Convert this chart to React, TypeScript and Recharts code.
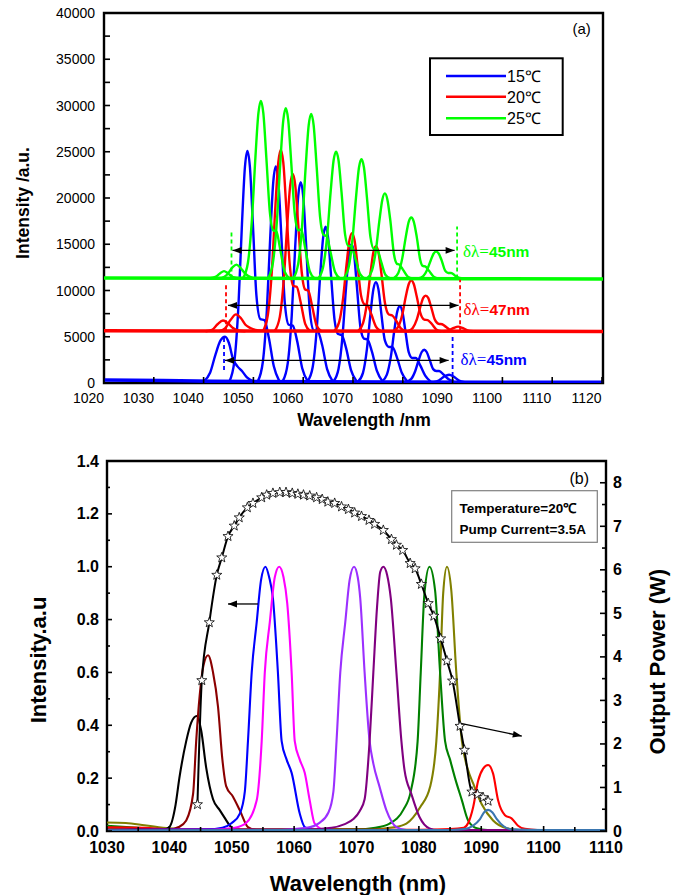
import React from 'react';
import { LineChart, Line, XAxis, YAxis, ReferenceArea, ReferenceLine, ReferenceDot } from 'recharts';

type Pt = [number, number];

const FONT = 'Arial, "Liberation Sans", sans-serif';
const SERIF = '"Times New Roman", "Liberation Serif", serif';

// ---------- (a) spectra at three temperatures ----------
const aLabels = [1020, 1030, 1040, 1050, 1060, 1070, 1080, 1090, 1100, 1110, 1120];
const aTickShift = 3.1; // tick marks in the original frame sit 3.1 nm right of their labels
const aYTicks = [0, 2500, 5000, 7500, 10000, 12500, 15000, 17500, 20000, 22500, 25000, 27500, 30000, 32500, 35000, 37500, 40000];

const blueBaseline: Pt[] = [[1023.1, 320], [1035, 260], [1045, 180], [1100, 90], [1123.3, 80]];
const redBaseline: Pt[] = [[1023.1, 5650], [1060, 5620], [1123.3, 5580]];
const greenBaseline: Pt[] = [[1023.1, 11350], [1070, 11300], [1123.3, 11250]];

const blue15: Pt[][] = [
  [[1043.2, 200], [1044.4, 1100], [1045.5, 3100], [1046.5, 4600], [1047.4, 5000], [1048.2, 4300], [1049.0, 2600], [1049.9, 1800], [1050.8, 1300], [1051.8, 600], [1053.0, 200]],
  [[1048.3, 200], [1049.3, 2450], [1050.1, 8400], [1050.8, 17150], [1051.4, 23350], [1051.9, 25100], [1052.4, 23350], [1053.0, 17150], [1053.7, 9500], [1054.5, 6900], [1055.3, 6800], [1056.2, 4900], [1057.2, 1800], [1058.3, 200]],
  [[1054.0, 200], [1055.0, 2300], [1055.8, 7850], [1056.5, 16000], [1057.1, 21800], [1057.6, 23400], [1058.1, 21800], [1058.7, 16000], [1059.4, 8700], [1060.2, 6300], [1061.0, 6200], [1061.9, 4500], [1062.9, 1600], [1064.0, 200]],
  [[1059.0, 200], [1060.0, 2150], [1060.8, 7300], [1061.5, 14800], [1062.1, 20200], [1062.6, 21700], [1063.1, 20200], [1063.7, 14800], [1064.4, 8000], [1065.2, 5700], [1066.0, 5600], [1066.9, 4100], [1067.9, 1500], [1069.0, 200]],
  [[1064.0, 200], [1065.0, 1700], [1065.8, 5700], [1066.5, 11550], [1067.1, 15700], [1067.6, 16900], [1068.1, 15700], [1068.7, 11550], [1069.4, 6800], [1070.1, 5300], [1070.8, 5200], [1071.7, 3800], [1072.7, 1400], [1073.8, 200]],
  [[1069.2, 200], [1070.2, 1550], [1071.0, 5100], [1071.7, 10300], [1072.3, 14000], [1072.8, 15000], [1073.3, 14000], [1073.9, 10300], [1074.6, 6000], [1075.3, 4800], [1076.0, 4700], [1076.9, 3400], [1077.9, 1300], [1079.0, 200]],
  [[1074.1, 150], [1075.1, 1100], [1075.9, 3700], [1076.6, 7450], [1077.2, 10150], [1077.7, 10900], [1078.2, 10150], [1078.8, 7450], [1079.5, 4600], [1080.3, 3900], [1081.0, 3900], [1081.9, 2800], [1082.9, 1100], [1084.0, 150]],
  [[1078.9, 150], [1079.9, 900], [1080.7, 2850], [1081.4, 5700], [1082.0, 7750], [1082.5, 8300], [1083.0, 7750], [1083.6, 5700], [1084.3, 3300], [1085.0, 2700], [1085.7, 2700], [1086.6, 1900], [1087.6, 800], [1088.7, 150]],
  [[1083.8, 150], [1084.8, 450], [1085.6, 1300], [1086.3, 2500], [1086.9, 3350], [1087.4, 3600], [1087.9, 3350], [1088.5, 2500], [1089.2, 1500], [1089.8, 1300], [1090.4, 1300], [1091.3, 900], [1092.3, 400], [1093.4, 100]],
  [[1089.3, 100], [1090.4, 300], [1091.4, 700], [1092.4, 900], [1093.3, 700], [1094.3, 300], [1095.5, 100]],
];

const red20: Pt[][] = [
  [[1043.5, 5600], [1044.8, 5750], [1045.9, 6350], [1047.0, 6750], [1048.0, 6450], [1049.0, 5950], [1050.3, 5650], [1051.5, 5600]],
  [[1046.2, 5600], [1047.4, 5900], [1048.5, 6800], [1049.6, 7420], [1050.6, 7000], [1051.5, 6300], [1052.5, 5950], [1053.5, 5750], [1055.0, 5650]],
  [[1055.0, 5600], [1056.0, 7350], [1056.8, 12050], [1057.5, 18950], [1058.1, 23850], [1058.6, 25200], [1059.1, 23850], [1059.7, 18950], [1060.4, 12800], [1061.1, 10500], [1061.8, 10400], [1062.6, 8700], [1063.5, 6400], [1064.5, 5600]],
  [[1057.4, 5650], [1058.4, 7150], [1059.2, 11200], [1059.9, 17150], [1060.5, 21400], [1061.0, 22600], [1061.5, 21400], [1062.1, 17150], [1062.8, 12000], [1063.5, 10100], [1064.1, 10000], [1064.9, 8300], [1065.8, 6200], [1066.8, 5600]],
  [[1069.3, 5600], [1070.3, 6550], [1071.1, 9100], [1071.8, 12800], [1072.4, 15450], [1072.9, 16200], [1073.4, 15450], [1074.0, 12800], [1074.7, 9500], [1075.4, 8500], [1076.0, 8400], [1076.8, 7400], [1077.7, 6100], [1078.7, 5600]],
  [[1074.1, 5600], [1075.1, 6450], [1075.9, 8650], [1076.6, 11850], [1077.2, 14150], [1077.7, 14800], [1078.2, 14150], [1078.8, 11850], [1079.5, 8700], [1080.3, 7400], [1081.0, 7300], [1081.8, 6700], [1082.7, 5900], [1083.7, 5600]],
  [[1081.2, 5600], [1082.2, 6100], [1083.0, 7400], [1083.7, 9350], [1084.3, 10700], [1084.8, 11100], [1085.3, 10700], [1085.9, 9350], [1086.6, 7600], [1087.4, 6850], [1088.1, 6800], [1088.9, 6400], [1089.8, 5800], [1090.8, 5600]],
  [[1084.1, 5600], [1085.1, 5950], [1085.9, 6850], [1086.6, 8200], [1087.2, 9200], [1087.7, 9450], [1088.2, 9200], [1088.8, 8200], [1089.5, 6900], [1090.3, 6400], [1091.0, 6350], [1091.8, 6050], [1092.7, 5700], [1093.7, 5600]],
  [[1091.2, 5600], [1092.3, 5700], [1093.3, 5950], [1094.2, 6100], [1095.1, 5950], [1096.1, 5700], [1097.2, 5600]],
];

const green25: Pt[][] = [
  [[1044.2, 11300], [1045.6, 11500], [1046.5, 11900], [1047.2, 12100], [1048.0, 11850], [1049.0, 11450], [1050.5, 11300]],
  [[1046.6, 11300], [1047.8, 11700], [1048.9, 12500], [1049.7, 12800], [1050.5, 12450], [1051.5, 11800], [1052.8, 11400], [1054.0, 11300]],
  [[1051.0, 11300], [1052.0, 13000], [1052.8, 17650], [1053.5, 24350], [1054.1, 29150], [1054.6, 30500], [1055.1, 29150], [1055.7, 24350], [1056.4, 18500], [1057.1, 16500], [1057.7, 16400], [1058.5, 14400], [1059.4, 12000], [1060.4, 11300]],
  [[1056.0, 11300], [1057.0, 12950], [1057.8, 17350], [1058.5, 23800], [1059.1, 28400], [1059.6, 29700], [1060.1, 28400], [1060.7, 23800], [1061.4, 18300], [1062.1, 16500], [1062.7, 16600], [1063.5, 14600], [1064.4, 12100], [1065.4, 11300]],
  [[1061.1, 11300], [1062.1, 12900], [1062.9, 17150], [1063.6, 23400], [1064.2, 27850], [1064.7, 29100], [1065.2, 27850], [1065.8, 23400], [1066.5, 17900], [1067.2, 16000], [1067.8, 15900], [1068.6, 14100], [1069.5, 12000], [1070.5, 11300]],
  [[1066.1, 11300], [1067.1, 12550], [1067.9, 15800], [1068.6, 20600], [1069.2, 24050], [1069.7, 25000], [1070.2, 24050], [1070.8, 20600], [1071.5, 16100], [1072.2, 14800], [1072.8, 14800], [1073.6, 13400], [1074.5, 11800], [1075.5, 11300]],
  [[1071.2, 11300], [1072.2, 12450], [1073.0, 15550], [1073.7, 20050], [1074.3, 23300], [1074.8, 24200], [1075.3, 23300], [1075.9, 20050], [1076.6, 15800], [1077.3, 14500], [1077.9, 14500], [1078.7, 13200], [1079.6, 11700], [1080.6, 11300]],
  [[1075.9, 11300], [1076.9, 12150], [1077.7, 14350], [1078.4, 17550], [1079.0, 19850], [1079.5, 20500], [1080.0, 19850], [1080.6, 17550], [1081.3, 14000], [1081.9, 12900], [1082.4, 12800], [1083.2, 12200], [1084.1, 11500], [1085.1, 11300]],
  [[1081.2, 11300], [1082.2, 11900], [1083.0, 13500], [1083.7, 15800], [1084.3, 17450], [1084.8, 17900], [1085.3, 17450], [1085.9, 15800], [1086.6, 13300], [1087.1, 12650], [1087.6, 12600], [1088.4, 12100], [1089.3, 11500], [1090.3, 11300]],
  [[1086.2, 11300], [1087.2, 11550], [1088.0, 12250], [1088.7, 13250], [1089.3, 14000], [1089.8, 14200], [1090.3, 14000], [1090.9, 13250], [1091.6, 12150], [1092.2, 11900], [1092.8, 11900], [1093.6, 11600], [1094.5, 11350], [1095.5, 11300]],
];

// ---------- (b) normalised spectra + output power ----------
const bXTicks = [1030, 1035, 1040, 1045, 1050, 1055, 1060, 1065, 1070, 1075, 1080, 1085, 1090, 1095, 1100, 1105, 1110];
const bLeftTicks = [0, 0.1, 0.2, 0.3, 0.4, 0.5, 0.6, 0.7, 0.8, 0.9, 1.0, 1.1, 1.2, 1.3, 1.4];
const bRightTicks = [0, 0.5, 1, 1.5, 2, 2.5, 3, 3.5, 4, 4.5, 5, 5.5, 6, 6.5, 7, 7.5, 8];

const bBlack: Pt[] = [[1030, 0.004], [1039, 0.004], [1040, 0.015], [1041, 0.1], [1041.6, 0.2], [1042.7, 0.34], [1043.5, 0.41], [1044.4, 0.435], [1045.1, 0.38], [1045.9, 0.24], [1047, 0.12], [1048.1, 0.078], [1049, 0.045], [1049.7, 0.02], [1051, 0.004], [1110, 0.003]];
const bMaroon: Pt[] = [[1030, 0.006], [1040, 0.006], [1041.5, 0.015], [1042.7, 0.04], [1043.8, 0.14], [1044.3, 0.34], [1044.85, 0.51], [1045.5, 0.63], [1046.2, 0.665], [1047, 0.6], [1047.8, 0.47], [1048.5, 0.27], [1049.1, 0.17], [1050.2, 0.13], [1051.3, 0.078], [1052.6, 0.015], [1054, 0.004], [1110, 0.003]];
const bBlue: Pt[] = [[1030, 0.004], [1046, 0.006], [1048.5, 0.012], [1050, 0.03], [1051.3, 0.066], [1052.1, 0.15], [1052.6, 0.34], [1053.2, 0.6], [1054, 0.79], [1054.7, 0.95], [1055.4, 1.0], [1056, 0.96], [1056.6, 0.88], [1057.4, 0.6], [1058, 0.34], [1058.8, 0.27], [1059.6, 0.22], [1060.9, 0.066], [1061.7, 0.015], [1063, 0.004], [1110, 0.003]];
const bMagenta: Pt[] = [[1030, 0.004], [1047, 0.005], [1050.5, 0.012], [1052.3, 0.03], [1054, 0.116], [1054.8, 0.34], [1055.3, 0.6], [1056.1, 0.79], [1056.9, 0.96], [1057.6, 1.0], [1058.3, 0.96], [1058.9, 0.86], [1059.6, 0.6], [1060.1, 0.34], [1060.9, 0.27], [1061.7, 0.22], [1062.5, 0.116], [1063.3, 0.028], [1065, 0.004], [1110, 0.003]];
const bViolet: Pt[] = [[1030, 0.004], [1058, 0.005], [1062, 0.012], [1064, 0.03], [1065.5, 0.07], [1066.3, 0.15], [1066.8, 0.34], [1067.4, 0.6], [1068.2, 0.79], [1068.9, 0.95], [1069.6, 1.0], [1070.2, 0.96], [1070.6, 0.88], [1071.3, 0.6], [1072.1, 0.34], [1072.7, 0.255], [1073.7, 0.167], [1074.8, 0.078], [1076.4, 0.015], [1078, 0.004], [1110, 0.003]];
const bPurple: Pt[] = [[1030, 0.004], [1062, 0.005], [1066, 0.012], [1068, 0.025], [1069.5, 0.045], [1070.5, 0.075], [1071.3, 0.12], [1072.1, 0.34], [1072.7, 0.6], [1073.3, 0.85], [1073.8, 0.98], [1074.3, 1.0], [1074.9, 0.97], [1075.5, 0.88], [1076.4, 0.6], [1077.2, 0.34], [1077.7, 0.23], [1078.8, 0.14], [1080.1, 0.053], [1081.7, 0.01], [1083, 0.004], [1110, 0.003]];
const bGreen: Pt[] = [[1030, 0.02], [1035, 0.012], [1040, 0.006], [1070, 0.006], [1073, 0.012], [1075.3, 0.028], [1077.5, 0.08], [1078.7, 0.15], [1079.8, 0.34], [1080.3, 0.6], [1080.9, 0.9], [1081.7, 1.0], [1082.6, 0.91], [1083.4, 0.6], [1084.2, 0.34], [1085, 0.27], [1085.8, 0.2], [1086.9, 0.116], [1087.9, 0.04], [1089.3, 0.01], [1091, 0.004], [1110, 0.003]];
const bOlive: Pt[] = [[1030, 0.032], [1033, 0.03], [1036, 0.022], [1040, 0.01], [1045, 0.005], [1072, 0.006], [1076, 0.014], [1078, 0.028], [1080.2, 0.09], [1081.8, 0.167], [1082.8, 0.34], [1083.4, 0.6], [1083.9, 0.9], [1084.5, 1.0], [1085.2, 0.91], [1086, 0.6], [1086.9, 0.34], [1087.9, 0.23], [1088.7, 0.18], [1090.1, 0.1], [1091.9, 0.04], [1094.1, 0.01], [1096, 0.004], [1110, 0.003]];
const bRed: Pt[] = [[1030, 0.014], [1036, 0.012], [1040, 0.006], [1080, 0.005], [1085, 0.007], [1087.2, 0.012], [1087.9, 0.03], [1088.7, 0.09], [1089.5, 0.19], [1090.3, 0.236], [1091.1, 0.25], [1091.9, 0.217], [1092.7, 0.116], [1093.8, 0.06], [1094.9, 0.047], [1095.9, 0.02], [1097, 0.008], [1099, 0.004], [1110, 0.003]];
const bSteel: Pt[] = [[1030, 0.003], [1085, 0.004], [1087.5, 0.008], [1088.7, 0.02], [1089.8, 0.045], [1090.5, 0.072], [1091.1, 0.08], [1091.8, 0.07], [1092.5, 0.045], [1093.6, 0.018], [1095, 0.006], [1100, 0.004], [1110, 0.004]];

const powerWave = [1044.5, 1045.2, 1046.4, 1047.6, 1048.4, 1049.4, 1050.4, 1051.2, 1052.5, 1053.4, 1054.8, 1055.6, 1056.6, 1057.7, 1058.7, 1059.7, 1060.6, 1061.5, 1062.5, 1063.6, 1064.5, 1065.4, 1066.5, 1067.6, 1068.7, 1069.7, 1070.8, 1072.0, 1072.9, 1074.3, 1075.6, 1076.4, 1077.4, 1078.6, 1079.4, 1080.4, 1081.5, 1082.4, 1083.5, 1084.5, 1085.4, 1086.6, 1087.3, 1088.5, 1089.4, 1090.3, 1091.1];
const powerW = [0.61, 3.46, 4.79, 5.88, 6.28, 6.77, 7.01, 7.2, 7.43, 7.53, 7.66, 7.72, 7.76, 7.78, 7.78, 7.76, 7.74, 7.72, 7.70, 7.66, 7.62, 7.56, 7.53, 7.45, 7.39, 7.31, 7.23, 7.14, 7.05, 6.91, 6.70, 6.57, 6.45, 6.15, 6.03, 5.67, 5.23, 4.94, 4.42, 3.91, 3.45, 2.41, 1.86, 0.9, 0.84, 0.77, 0.69];

const rows = (pts: Pt[]) => pts.map(([x, y]) => ({ x, y }));
const powerRows = powerWave.map((x, i) => ({ x, y: powerW[i] }));

const bSpectra = [
  { pts: bOlive, color: '#808000' },
  { pts: bGreen, color: '#008000' },
  { pts: bRed, color: '#ff0000' },
  { pts: bBlack, color: '#000000' },
  { pts: bMaroon, color: '#8b0000' },
  { pts: bBlue, color: '#0000ff' },
  { pts: bMagenta, color: '#ff00ff' },
  { pts: bViolet, color: '#9b30ff' },
  { pts: bPurple, color: '#800080' },
  { pts: bSteel, color: '#3a76b0' },
];

// plot edges (svg coords of each chart)
const A = { left: 104, right: 603, top: 13, bottom: 383 };
const B = { left: 107, right: 606, top: 21, bottom: 391 };

const TopXTick = (p: any) => {
  const { x, payload } = p;
  return (
    <g>
      <line x1={x} x2={x} y1={A.bottom} y2={A.bottom - 6} stroke="#000" strokeWidth={1.6} />
      <text x={x - 15.4} y={A.bottom + 19.5} textAnchor="middle" fontSize={14} fontFamily={FONT} fill="#000">
        {Math.round(payload.value - aTickShift)}
      </text>
    </g>
  );
};

const TopYTick = (p: any) => {
  const { y, payload } = p;
  const major = payload.value % 5000 === 0;
  return (
    <g>
      <line x1={A.left} x2={A.left + 6} y1={y} y2={y} stroke="#000" strokeWidth={1.6} />
      {major && (
        <text x={95} y={y + 5} textAnchor="end" fontSize={14} fontFamily={FONT} fill="#000">
          {payload.value}
        </text>
      )}
    </g>
  );
};

const BotXTick = (p: any) => {
  const { x, payload } = p;
  const major = payload.value % 10 === 0;
  return (
    <g>
      <line x1={x} x2={x} y1={B.bottom} y2={B.bottom - (major ? 5 : 4)} stroke="#000" strokeWidth={1.6} />
      {major && (
        <text x={x} y={B.bottom + 22} textAnchor="middle" fontSize={16} fontWeight="bold" fontFamily={FONT} fill="#000">
          {payload.value}
        </text>
      )}
    </g>
  );
};

const BotLeftTick = (p: any) => {
  const { y, payload } = p;
  const major = Math.round(payload.value * 10) % 2 === 0;
  return (
    <g>
      <line x1={B.left} x2={B.left + (major ? 5 : 3)} y1={y} y2={y} stroke="#000" strokeWidth={1.6} />
      {major && (
        <text x={99} y={y + 5.5} textAnchor="end" fontSize={16} fontWeight="bold" fontFamily={FONT} fill="#000">
          {payload.value.toFixed(1)}
        </text>
      )}
    </g>
  );
};

const BotRightTick = (p: any) => {
  const { y, payload } = p;
  const major = Number.isInteger(payload.value);
  return (
    <g>
      <line x1={B.right} x2={B.right - (major ? 6 : 4)} y1={y} y2={y} stroke="#000" strokeWidth={1.6} />
      {major && (
        <text x={613} y={y + 5.5} textAnchor="start" fontSize={16} fontWeight="bold" fontFamily={FONT} fill="#000">
          {payload.value}
        </text>
      )}
    </g>
  );
};

const arrow = (both: boolean, size: number, width: number) => (p: any) => {
  const { x1, y1, x2, y2 } = p;
  const a = Math.atan2(y2 - y1, x2 - x1);
  const head = (x: number, y: number, ang: number) => {
    const bx = x - size * Math.cos(ang);
    const by = y - size * Math.sin(ang);
    const w = size * 0.38;
    return `${x},${y} ${bx - w * Math.sin(ang)},${by + w * Math.cos(ang)} ${bx + w * Math.sin(ang)},${by - w * Math.cos(ang)}`;
  };
  return (
    <g>
      <line x1={x1} y1={y1} x2={x2} y2={y2} stroke="#000" strokeWidth={width} />
      <polygon points={head(x2, y2, a)} fill="#000" />
      {both && <polygon points={head(x1, y1, a + Math.PI)} fill="#000" />}
    </g>
  );
};

const deltaLabel = (color: string, nm: string) => (p: any) => (
  <text x={p.cx} y={p.cy + 6} fill={color}>
    <tspan fontFamily={SERIF} fontSize={17}>δλ=</tspan>
    <tspan fontFamily={FONT} fontSize={15.5} fontWeight="bold">{nm}nm</tspan>
  </text>
);

const Star = (p: any) => {
  const { cx, cy, index } = p;
  if (cx == null || cy == null) return <g key={index} />;
  const pts: string[] = [];
  for (let i = 0; i < 10; i++) {
    const r = i % 2 ? 2.2 : 5.3;
    const ang = -Math.PI / 2 + (i * Math.PI) / 5;
    pts.push(`${cx + r * Math.cos(ang)},${cy + r * Math.sin(ang)}`);
  }
  return <polygon key={index} points={pts.join(' ')} fill="#fff" stroke="#000" strokeWidth={0.8} />;
};

const curve = (key: string, pts: Pt[], color: string, w: number, yAxisId?: string) => (
  <Line
    key={key}
    data={rows(pts)}
    dataKey="y"
    type="monotone"
    stroke={color}
    strokeWidth={w}
    dot={false}
    activeDot={false}
    yAxisId={yAxisId}
    isAnimationActive={false}
  />
);

const TopChart = () => (
  <LineChart width={681} height={440} margin={{ top: A.top, right: 681 - A.right, bottom: 0, left: 0 }}>
    <XAxis
      dataKey="x"
      type="number"
      domain={[1023.1, 1123.3]}
      allowDataOverflow
      ticks={aLabels.map((v) => v + aTickShift)}
      interval={0}
      tick={TopXTick}
      tickLine={false}
      axisLine={false}
      height={440 - A.bottom}
    />
    <YAxis
      type="number"
      domain={[0, 40000]}
      allowDataOverflow
      ticks={aYTicks}
      interval={0}
      tick={TopYTick}
      tickLine={false}
      axisLine={false}
      width={A.left}
    />
    {curve('bb', blueBaseline, '#0000ff', 3.5)}
    {blue15.map((c, i) => curve('b' + i, c, '#0000ff', 2.4))}
    {curve('rb', redBaseline, '#ff0000', 3.5)}
    {red20.map((c, i) => curve('r' + i, c, '#ff0000', 2.4))}
    {curve('gb', greenBaseline, '#00ff00', 3.5)}
    {green25.map((c, i) => curve('g' + i, c, '#00ff00', 2.4))}

    <ReferenceLine segment={[{ x: 1048.7, y: 11300 }, { x: 1048.7, y: 16570 }]} stroke="#00ff00" strokeWidth={1.8} strokeDasharray="4 3" />
    <ReferenceLine segment={[{ x: 1094.0, y: 11300 }, { x: 1094.0, y: 16930 }]} stroke="#00ff00" strokeWidth={1.8} strokeDasharray="4 3" />
    <ReferenceLine segment={[{ x: 1047.6, y: 5600 }, { x: 1047.6, y: 10840 }]} stroke="#ff0000" strokeWidth={1.8} strokeDasharray="4 3" />
    <ReferenceLine segment={[{ x: 1094.6, y: 5600 }, { x: 1094.6, y: 11170 }]} stroke="#ff0000" strokeWidth={1.8} strokeDasharray="4 3" />
    <ReferenceLine segment={[{ x: 1047.2, y: 1400 }, { x: 1047.2, y: 4900 }]} stroke="#0000ff" strokeWidth={1.8} strokeDasharray="4 3" />
    <ReferenceLine segment={[{ x: 1093.1, y: 0 }, { x: 1093.1, y: 5040 }]} stroke="#0000ff" strokeWidth={1.8} strokeDasharray="4 3" />

    <ReferenceLine segment={[{ x: 1048.9, y: 14330 }, { x: 1093.5, y: 14330 }]} shape={arrow(true, 9, 1.2)} />
    <ReferenceLine segment={[{ x: 1048.0, y: 8390 }, { x: 1094.3, y: 8390 }]} shape={arrow(true, 9, 1.2)} />
    <ReferenceLine segment={[{ x: 1047.4, y: 2440 }, { x: 1092.3, y: 2440 }]} shape={arrow(true, 9, 1.2)} />

    <ReferenceDot x={1095.2} y={14300} r={0} shape={deltaLabel('#00ff00', '45')} />
    <ReferenceDot x={1095.3} y={8030} r={0} shape={deltaLabel('#ff0000', '47')} />
    <ReferenceDot x={1094.7} y={2630} r={0} shape={deltaLabel('#0000ff', '45')} />

    <ReferenceArea x1={1023.1} x2={1123.3} y1={0} y2={40000} fill="none" stroke="#000" strokeWidth={2.4} />
  </LineChart>
);

const BottomChart = () => (
  <LineChart width={681} height={455} margin={{ top: B.top, right: 0, bottom: 0, left: 0 }}>
    <XAxis
      dataKey="x"
      type="number"
      domain={[1030, 1110]}
      allowDataOverflow
      ticks={bXTicks}
      interval={0}
      tick={BotXTick}
      tickLine={false}
      axisLine={false}
      height={455 - B.bottom}
    />
    <YAxis
      yAxisId="left"
      type="number"
      domain={[0, 1.4]}
      allowDataOverflow
      ticks={bLeftTicks}
      interval={0}
      tick={BotLeftTick}
      tickLine={false}
      axisLine={false}
      width={B.left}
    />
    <YAxis
      yAxisId="right"
      orientation="right"
      type="number"
      domain={[0, 8.5]}
      allowDataOverflow
      ticks={bRightTicks}
      interval={0}
      tick={BotRightTick}
      tickLine={false}
      axisLine={false}
      width={681 - B.right}
    />
    {bSpectra.map((s, i) => curve('s' + i, s.pts, s.color, 2.1, 'left'))}
    <Line
      data={powerRows}
      dataKey="y"
      yAxisId="right"
      type="monotone"
      stroke="#000"
      strokeWidth={2}
      dot={(p: any) => <Star {...p} key={p.index} />}
      activeDot={false}
      isAnimationActive={false}
    />

    <ReferenceLine yAxisId="left" segment={[{ x: 1054.2, y: 0.859 }, { x: 1049.4, y: 0.859 }]} shape={arrow(false, 9, 1.3)} />
    <ReferenceLine yAxisId="right" segment={[{ x: 1086.5, y: 2.48 }, { x: 1096.5, y: 2.18 }]} shape={arrow(false, 9, 1.3)} />

    <ReferenceArea yAxisId="left" x1={1030} x2={1110} y1={0} y2={1.4} fill="none" stroke="#000" strokeWidth={2.4} />
  </LineChart>
);

const Overlay = () => (
  <svg width={681} height={895} style={{ position: 'absolute', left: 0, top: 0, pointerEvents: 'none' }}>
    {/* (a) */}
    <text x={581.7} y={33.5} textAnchor="middle" fontSize={15} fontFamily={FONT}>(a)</text>
    <rect x={430} y={58.3} width={132.7} height={76.7} fill="#fff" stroke="#000" strokeWidth={2} />
    <line x1={446} x2={506} y1={76} y2={76} stroke="#0000ff" strokeWidth={2.5} />
    <line x1={446} x2={506} y1={96.7} y2={96.7} stroke="#ff0000" strokeWidth={2.5} />
    <line x1={446} x2={506} y1={118.3} y2={118.3} stroke="#00ff00" strokeWidth={2.5} />
    <text x={507} y={81.8} fontSize={16} fontFamily={FONT}>15℃</text>
    <text x={507} y={102.5} fontSize={16} fontFamily={FONT}>20℃</text>
    <text x={507} y={124.1} fontSize={16} fontFamily={FONT}>25℃</text>
    <text transform="translate(23,203) rotate(-90)" dy={6} textAnchor="middle" fontSize={17.5} fontWeight="bold" fontFamily={FONT}>
      Intensity /a.u.
    </text>
    <text x={364} y={426} textAnchor="middle" fontSize={17.5} fontWeight="bold" fontFamily={FONT}>Wavelength /nm</text>

    {/* (b) */}
    <text x={579.3} y={483.5} textAnchor="middle" fontSize={16} fontFamily={FONT}>(b)</text>
    <rect x={451.7} y={490.7} width={145.6} height={51.6} fill="#fff" stroke="#808080" strokeWidth={1.2} />
    <text x={459.5} y={512.5} fontSize={13.5} fontWeight="bold" fontFamily={FONT}>Temperature=20℃</text>
    <text x={459.5} y={534} fontSize={13.5} fontWeight="bold" fontFamily={FONT}>Pump Current=3.5A</text>
    <text transform="translate(37.7,660) rotate(-90)" dy={8} textAnchor="middle" fontSize={22} fontWeight="bold" fontFamily={FONT}>
      Intensity.a.u
    </text>
    <text transform="translate(656.7,661.7) rotate(-90)" dy={8} textAnchor="middle" fontSize={22} fontWeight="bold" fontFamily={FONT}>
      Output Power (W)
    </text>
    <text x={358} y={891} textAnchor="middle" fontSize={22} fontWeight="bold" fontFamily={FONT}>Wavelength (nm)</text>
  </svg>
);

export default function App() {
  return (
    <div style={{ position: 'absolute', left: 0, top: 0, width: 681, height: 895, background: '#fff', fontFamily: FONT }}>
      <div style={{ position: 'absolute', left: 0, top: 0 }}>
        <TopChart />
      </div>
      <div style={{ position: 'absolute', left: 0, top: 440 }}>
        <BottomChart />
      </div>
      <Overlay />
    </div>
  );
}
